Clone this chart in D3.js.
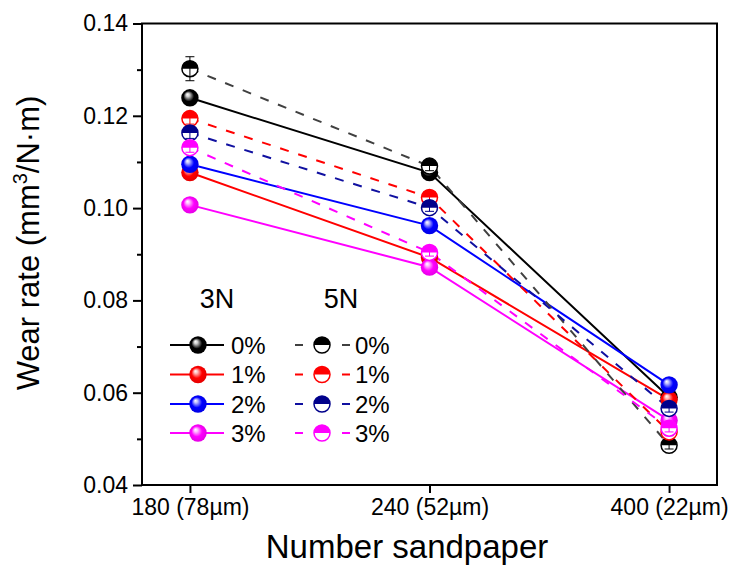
<!DOCTYPE html>
<html>
<head>
<meta charset="utf-8">
<script src="https://cdn.jsdelivr.net/npm/d3@7"></script>
<style>
  body { margin: 0; background: #fff; }
  svg { font-family: "Liberation Sans", Arial, sans-serif; }
</style>
</head>
<body>
<svg id="chart" width="729" height="572"></svg>
<script>
// DATA
var categories = ['180 (78\u00b5m)', '240 (52\u00b5m)', '400 (22\u00b5m)'];
var yTicks = [0.04, 0.06, 0.08, 0.10, 0.12, 0.14];
var yMinorTicks = [0.05, 0.07, 0.09, 0.11, 0.13];
var contents = ['0%', '1%', '2%', '3%'];

var wear3N_0 = [0.1239, 0.1077, 0.0590];
var wear3N_1 = [0.1077, 0.0893, 0.0585];
var wear3N_2 = [0.1095, 0.0962, 0.0617];
var wear3N_3 = [0.1007, 0.0872, 0.0540];
var wear5N_0 = [0.1302, 0.1091, 0.0486];
var wear5N_1 = [0.1194, 0.1023, 0.0515];
var wear5N_2 = [0.1163, 0.1001, 0.0566];
var wear5N_3 = [0.1131, 0.0904, 0.0523];

var err3N_0 = [0.0010, 0.0008, 0.0008];
var err3N_1 = [0.0008, 0.0008, 0.0008];
var err3N_2 = [0.0010, 0.0008, 0.0008];
var err3N_3 = [0.0008, 0.0008, 0.0008];
var err5N_0 = [0.0026, 0.0010, 0.0008];
var err5N_1 = [0.0012, 0.0008, 0.0008];
var err5N_2 = [0.0012, 0.0008, 0.0008];
var err5N_3 = [0.0010, 0.0008, 0.0008];

var colors3N = ['#000000', '#ff0000', '#0000ff', '#ff00ff'];
var colors5N = ['#000000', '#ff0000', '#00008b', '#ff00ff'];
var lines5N = ['#404040', '#ff0000', '#1010a0', '#ff00ff'];

var series3N = [wear3N_0, wear3N_1, wear3N_2, wear3N_3].map(function (v, i) {
    return { values: v, errors: [err3N_0, err3N_1, err3N_2, err3N_3][i], color: colors3N[i], line: colors3N[i], idx: i };
});
var series5N = [wear5N_0, wear5N_1, wear5N_2, wear5N_3].map(function (v, i) {
    return { values: v, errors: [err5N_0, err5N_1, err5N_2, err5N_3][i], color: colors5N[i], line: lines5N[i], idx: i };
});

var svg = d3.select('#chart');
var R = 8.7;

var x = d3.scaleLinear().domain([-0.2, 2.2]).range([142, 717]);
var y = d3.scaleLinear().domain([0.04, 0.14]).range([485, 23.5]);

// GRADIENTS for the 3N spheres
var defs = svg.append('defs');
colors3N.forEach(function (c, i) {
    var g = defs.append('radialGradient')
        .attr('id', 'ball' + i)
        .attr('cx', '50%').attr('cy', '50%').attr('r', '55%')
        .attr('fx', '35%').attr('fy', '30%');
    var light = i === 0 ? '#d0d0d0' : d3.interpolateRgb(c, '#ffffff')(0.75);
    var dark = i === 0 ? '#000000' : d3.interpolateRgb(c, '#000000')(0.12);
    g.append('stop').attr('offset', '0%').attr('stop-color', '#ffffff');
    g.append('stop').attr('offset', '18%').attr('stop-color', light);
    g.append('stop').attr('offset', '55%').attr('stop-color', c);
    g.append('stop').attr('offset', '100%').attr('stop-color', dark);
});

// AXES
var yAxis = d3.axisLeft(y).tickValues(yTicks).tickSize(9).tickPadding(5)
    .tickFormat(d3.format('.2f'));
var yMinor = d3.axisLeft(y).tickValues(yMinorTicks).tickSize(5).tickFormat('');
var xAxis = d3.axisBottom(x).tickValues([0, 1, 2]).tickSize(8).tickPadding(6)
    .tickFormat(function (d) { return categories[d]; });

function styleAxis(g) {
    g.select('.domain').remove();
    g.selectAll('line').attr('stroke', '#000').attr('stroke-width', 2);
    g.selectAll('text').attr('fill', '#000').style('font-size', '23px')
        .style('font-family', '"Liberation Sans", Arial, sans-serif');
}

svg.append('g').attr('transform', 'translate(142,0)').call(yAxis).call(styleAxis);
svg.append('g').attr('transform', 'translate(142,0)').call(yMinor).call(styleAxis);
svg.append('g').attr('transform', 'translate(0,485)').call(xAxis).call(styleAxis);

// FRAME
svg.append('rect')
    .attr('x', x(-0.2)).attr('y', y(0.14))
    .attr('width', x(2.2) - x(-0.2)).attr('height', y(0.04) - y(0.14))
    .attr('fill', 'none').attr('stroke', '#000').attr('stroke-width', 2);

// AXIS TITLES
svg.append('text')
    .attr('x', 407).attr('y', 558)
    .attr('text-anchor', 'middle')
    .style('font-size', '33px')
    .text('Number sandpaper');

var yt = svg.append('text')
    .attr('transform', 'translate(39,243) rotate(-90)')
    .attr('text-anchor', 'middle')
    .style('font-size', '31px');
yt.append('tspan').text('Wear rate (mm');
yt.append('tspan').attr('dy', -12).style('font-size', '20px').text('3');
yt.append('tspan').attr('dy', 12).text('/N\u00b7m)');

// LINES
var line = d3.line()
    .x(function (d, i) { return x(i); })
    .y(function (d) { return y(d); });

svg.append('g').selectAll('path').data(series3N).enter()
    .append('path')
    .attr('d', function (d) { return line(d.values); })
    .attr('fill', 'none')
    .attr('stroke', function (d) { return d.line; })
    .attr('stroke-width', 2);

svg.append('g').selectAll('path').data(series5N).enter()
    .append('path')
    .attr('d', function (d) { return line(d.values); })
    .attr('fill', 'none')
    .attr('stroke', function (d) { return d.line; })
    .attr('stroke-width', 2)
    .attr('stroke-dasharray', '9,10');

// MARKERS
function drawErrors(g, s) {
    s.values.forEach(function (v, i) {
        var cx = x(i), e = s.errors[i];
        g.append('line').attr('x1', cx).attr('x2', cx)
            .attr('y1', y(v + e)).attr('y2', y(v - e));
        [v + e, v - e].forEach(function (w) {
            g.append('line').attr('x1', cx - 4.5).attr('x2', cx + 4.5)
                .attr('y1', y(w)).attr('y2', y(w));
        });
    });
    g.selectAll('line').attr('stroke', s.color).attr('stroke-width', 1);
}

function sphere(g, cx, cy, i) {
    g.append('circle').attr('cx', cx).attr('cy', cy).attr('r', R)
        .attr('fill', 'url(#ball' + i + ')');
}

function halfBall(g, cx, cy, color) {
    g.append('circle').attr('cx', cx).attr('cy', cy).attr('r', R - 0.7)
        .attr('fill', '#fff');
    g.append('path')
        .attr('d', 'M' + (cx - R + 0.7) + ',' + cy + ' A' + (R - 0.7) + ',' + (R - 0.7) + ' 0 0 1 ' + (cx + R - 0.7) + ',' + cy + ' Z')
        .attr('fill', color);
    g.append('circle').attr('cx', cx).attr('cy', cy).attr('r', R - 0.7)
        .attr('fill', 'none').attr('stroke', color).attr('stroke-width', 1.5);
}

series3N.forEach(function (s) {
    var g = svg.append('g');
    drawErrors(g.append('g'), s);
    s.values.forEach(function (v, i) { sphere(g, x(i), y(v), s.idx); });
});

series5N.forEach(function (s) {
    var g = svg.append('g');
    s.values.forEach(function (v, i) { halfBall(g, x(i), y(v), s.color); });
    drawErrors(g.append('g'), s);
});

// LEGEND
var legend = svg.append('g');
var rowY = [345, 374.5, 404, 433];

legend.append('text').attr('x', 217).attr('y', 308).attr('text-anchor', 'middle')
    .style('font-size', '27px').text('3N');
legend.append('text').attr('x', 341).attr('y', 308).attr('text-anchor', 'middle')
    .style('font-size', '27px').text('5N');

series3N.forEach(function (s, i) {
    var ly = rowY[i];
    legend.append('line').attr('x1', 170).attr('x2', 224).attr('y1', ly).attr('y2', ly)
        .attr('stroke', s.line).attr('stroke-width', 2);
    sphere(legend, 198, ly, s.idx);
    legend.append('text').attr('x', 231).attr('y', ly).attr('dy', '0.36em')
        .style('font-size', '24px').text(contents[i]);
});

series5N.forEach(function (s, i) {
    var ly = rowY[i];
    legend.append('line').attr('x1', 295).attr('x2', 350).attr('y1', ly).attr('y2', ly)
        .attr('stroke', s.line).attr('stroke-width', 2)
        .attr('stroke-dasharray', '8,15.5');
    halfBall(legend, 322, ly, s.color);
    legend.append('text').attr('x', 355).attr('y', ly).attr('dy', '0.36em')
        .style('font-size', '24px').text(contents[i]);
});
</script>
</body>
</html>
